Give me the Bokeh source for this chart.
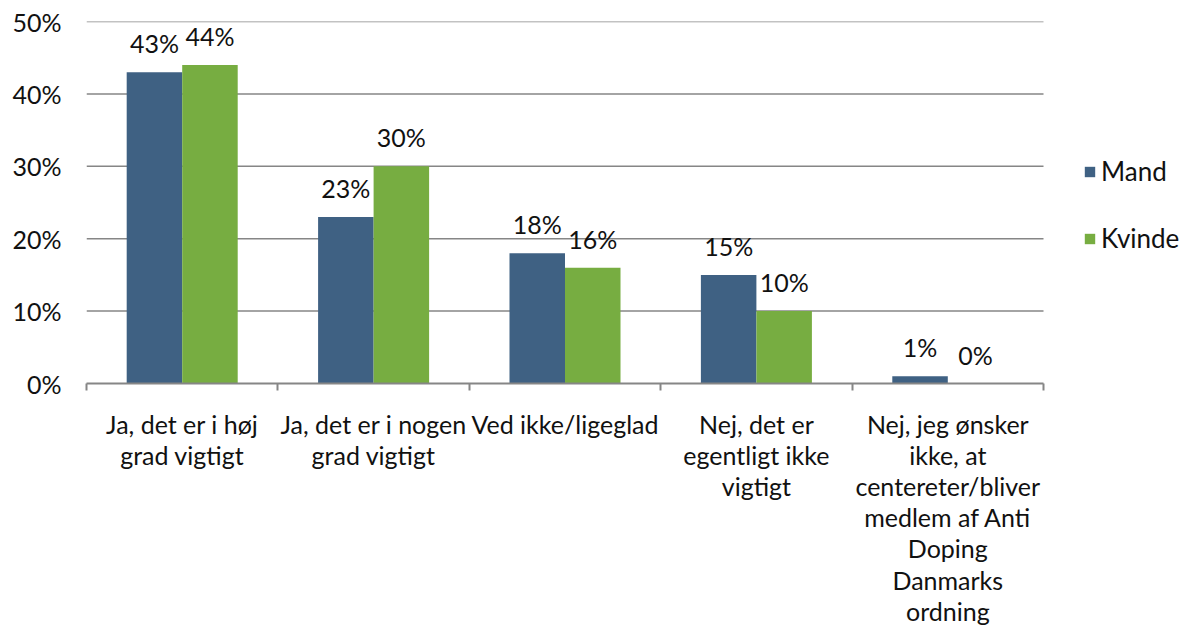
from bokeh.plotting import figure
from bokeh.models import ColumnDataSource, FixedTicker, Range1d, Legend, LegendItem
from bokeh.core.properties import value
from bokeh.embed import file_html
from bokeh.resources import INLINE

categories = ["Ja, det er i høj\ngrad vigtigt",
              "Ja, det er i nogen\ngrad vigtigt",
              "Ved ikke/ligeglad",
              "Nej, det er\negentligt ikke\nvigtigt",
              "Nej, jeg ønsker\nikke, at\ncentereter/bliver\nmedlem af Anti\nDoping\nDanmarks\nordning"]
mand = [43, 23, 18, 15, 1]
kvinde = [44, 30, 16, 10, 0]
y_ticks = [0, 10, 20, 30, 40, 50]

FONT = "Lato"
C_MAND = "#3F6183"
C_KVINDE = "#77AD41"
GRID = "#868686"
TXT = "#111111"

n = len(categories)
centers = [i + 0.5 for i in range(n)]
bw = 0.29
src_m = ColumnDataSource(dict(x=[c - bw / 2 for c in centers], top=mand, lab=[f"{v}%" for v in mand]))
src_k = ColumnDataSource(dict(x=[c + bw / 2 for c in centers], top=kvinde, lab=[f"{v}%" for v in kvinde]))
grid_src = ColumnDataSource(dict(x0=[0] * (len(y_ticks) - 1), x1=[n] * (len(y_ticks) - 1), y=y_ticks[1:]))

W, H = 1184, 628
LEFT, TOP, BOTTOM = 86, 21, 241
CAT_W = 957  # pixels used by the 5 categories; the rest at right holds the legend
x_end = n * (W - LEFT) / CAT_W
p = figure(width=W, height=H, output_backend="svg", toolbar_location=None,
           x_range=Range1d(0, x_end), y_range=Range1d(0, 50),
           min_border_left=LEFT, min_border_top=TOP, min_border_bottom=BOTTOM, min_border_right=0)
p.outline_line_color = None
p.background_fill_color = "white"
p.xgrid.grid_line_color = None
p.ygrid.grid_line_color = None

p.segment(x0="x0", x1="x1", y0="y", y1="y", source=grid_src, line_color=GRID, line_width=1.5)

rm = p.vbar(x="x", top="top", width=bw, source=src_m, color=C_MAND, line_color=None)
rk = p.vbar(x="x", top="top", width=bw, source=src_k, color=C_KVINDE, line_color=None)

for src in (src_m, src_k):
    p.text(x="x", y="top", text="lab", source=src, text_align="center", text_baseline="bottom",
           y_offset=-14, text_font=value(FONT), text_font_size="25px", text_color=TXT)

# x axis
p.xaxis.bounds = (0, n)
p.xaxis.ticker = FixedTicker(ticks=centers, minor_ticks=list(range(n + 1)))
p.xaxis.major_label_overrides = {c: lab for c, lab in zip(centers, categories)}
p.xaxis.major_tick_line_color = None
p.xaxis.minor_tick_line_color = GRID
p.xaxis.minor_tick_line_width = 2
p.xaxis.minor_tick_out = 7
p.xaxis.minor_tick_in = 0
p.xaxis.axis_line_color = GRID
p.xaxis.axis_line_width = 2
p.xaxis.major_label_text_font = FONT
p.xaxis.major_label_text_font_size = "25px"
p.xaxis.major_label_text_color = TXT
p.xaxis.major_label_text_line_height = 1.04
p.xaxis.major_label_standoff = 18
p.xaxis.major_label_orientation = "horizontal"

# y axis
p.yaxis.ticker = FixedTicker(ticks=y_ticks)
p.yaxis.major_label_overrides = {t: f"{t}%" for t in y_ticks}
p.yaxis.axis_line_color = None
p.yaxis.major_tick_line_color = None
p.yaxis.minor_tick_line_color = None
p.yaxis.major_label_text_font = FONT
p.yaxis.major_label_text_font_size = "25px"
p.yaxis.major_label_text_color = TXT
p.yaxis.major_label_standoff = 19

legend = Legend(items=[LegendItem(label="Mand", renderers=[rm]), LegendItem(label="Kvinde", renderers=[rk])],
                location=(997, 129), border_line_color=None, background_fill_alpha=0,
                label_text_font=FONT, label_text_font_size="26px", label_text_color=TXT,
                glyph_width=13, glyph_height=13, spacing=35, label_standoff=5, margin=0, padding=4)
p.add_layout(legend, "center")

open("out.html", "w").write(file_html(p, INLINE))
